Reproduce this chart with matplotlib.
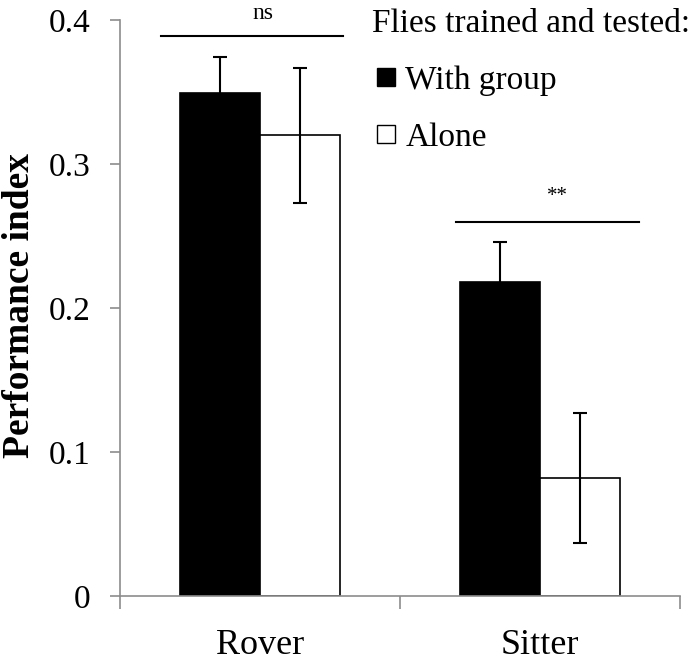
import matplotlib
matplotlib.use("Agg")
import matplotlib.pyplot as plt
from matplotlib.lines import Line2D
import numpy as np

plt.rcParams['font.family'] = ['Liberation Serif', 'DejaVu Serif']

categories = ["Rover", "Sitter"]
group_vals = [0.349, 0.218]
group_err = [0.025, 0.028]
alone_vals = [0.320, 0.082]
alone_err = [0.047, 0.045]
series_labels = ["With group", "Alone"]
series_colors = ["black", "white"]
legend_title = "Flies trained and tested:"
yticks = [0, 0.1, 0.2, 0.3, 0.4]
ytick_labels = ["0", "0.1", "0.2", "0.3", "0.4"]
sig_labels = ["ns", "**"]

fig = plt.figure(figsize=(6.94, 6.63), dpi=100)
ax = fig.add_axes([120/694, 1-596/663, (680-120)/694, (596-20)/663])

x = np.arange(len(categories))
w = 80/280
err_kw = dict(ecolor='black', elinewidth=1.5, capsize=5, capthick=1.5)
b1 = ax.bar(x - w/2, group_vals, w, yerr=group_err, color=series_colors[0], edgecolor='black',
            linewidth=1.2, error_kw=err_kw, label=series_labels[0])
b2 = ax.bar(x + w/2, alone_vals, w, yerr=alone_err, color=series_colors[1], edgecolor='black',
            linewidth=1.2, error_kw=err_kw, label=series_labels[1])

ax.set_xlim(-0.5, 1.5)
ax.set_ylim(0, 0.4)
ax.set_yticks(yticks)
ax.set_yticklabels(ytick_labels, fontsize=24)
ax.set_xticks(x)
ax.set_xticklabels(categories, fontsize=26)
ax.set_xticks([-0.5, 0.5, 1.5], minor=True)
ax.tick_params(axis='x', which='major', length=0, pad=24)
ax.tick_params(axis='x', which='minor', length=9, width=1.2, color='#8c8c8c', direction='out')
ax.tick_params(axis='y', length=7, width=1.2, color='#8c8c8c', direction='out', pad=14)
for s in ['top', 'right']:
    ax.spines[s].set_visible(False)
for s in ['left', 'bottom']:
    ax.spines[s].set_color('#8c8c8c')
    ax.spines[s].set_linewidth(1.2)

fig.text(20/694, 1-306/663, "Performance index", rotation=90, ha='center', va='center',
         fontsize=27, fontweight='bold')

# significance lines
ax.plot([-0.354, 0.296], [0.389, 0.389], color='black', lw=1.5, clip_on=False)
ax.text(0.011, 0.401, sig_labels[0], ha='center', va='baseline', fontsize=17, clip_on=False)
ax.plot([0.70, 1.354], [0.2597, 0.2597], color='black', lw=1.5, clip_on=False)
ax.text(1.064, 0.2745, sig_labels[1], ha='center', va='baseline', fontsize=15, clip_on=False)

handles = [Line2D([], [], ls='none', marker='s', markersize=12.5, markerfacecolor=c,
                  markeredgecolor='black', markeredgewidth=1.0) for c in series_colors]
leg = ax.legend(handles=handles, labels=series_labels, title=legend_title,
                loc='upper left', bbox_to_anchor=(372/694, 1-8/663), bbox_transform=fig.transFigure,
                frameon=False, fontsize=24, title_fontsize=24, handlelength=0.85, numpoints=1,
                handletextpad=0.15, labelspacing=0.8, borderpad=0, borderaxespad=0, alignment='left')

fig.savefig("out.png", dpi=100)
